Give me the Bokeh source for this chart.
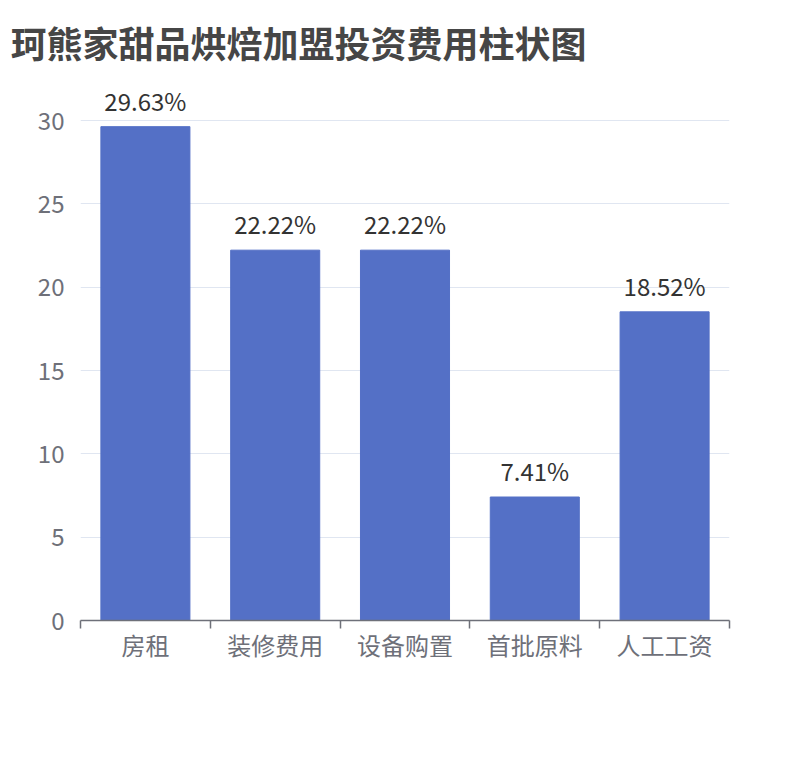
from bokeh.plotting import figure
from bokeh.models import ColumnDataSource, FixedTicker, Range1d
from bokeh.core.properties import value
from bokeh.embed import file_html
from bokeh.resources import INLINE

# data
categories = ["房租", "装修费用", "设备购置", "首批原料", "人工工资"]
shares = [29.63, 22.22, 22.22, 7.41, 18.52]
y_ticks = [0, 5, 10, 15, 20, 25, 30]

FONT = "Noto Sans CJK SC"
AXIS_GREY = "#6e7079"

pos = [i + 0.5 for i in range(len(categories))]
source = ColumnDataSource(data=dict(
    x=pos,
    top=shares,
    label=["%.2f%%" % v for v in shares],
))

# y range a bit above 30 so the top label is not clipped
p = figure(width=798, height=748, output_backend="svg", toolbar_location=None,
           x_range=Range1d(0, len(categories)), y_range=Range1d(0, 32.4),
           title="珂熊家甜品烘焙加盟投资费用柱状图")
p.min_border_left = 80
p.min_border_right = 69
p.min_border_top = 80
p.min_border_bottom = 128
p.outline_line_color = None

# title
p.title.text_font = FONT
p.title.text_font_size = "36px"
p.title.text_font_style = "bold"
p.title.text_color = "#464646"
p.title.offset = -70
p.title.standoff = 26

# bars + labels
p.vbar(x="x", top="top", width=0.686, source=source, color="#5470c6")
p.text(x="x", y="top", text="label", source=source, text_align="center",
       text_baseline="bottom", y_offset=-9, text_font=value(FONT),
       text_font_size="24px", text_color="#333333")

# grid
p.xgrid.grid_line_color = None
p.ygrid.grid_line_color = "#e0e6f1"
p.ygrid.ticker = FixedTicker(ticks=y_ticks)

# y axis
p.yaxis.ticker = FixedTicker(ticks=y_ticks)
p.yaxis.axis_line_color = None
p.yaxis.major_tick_line_color = None
p.yaxis.minor_tick_line_color = None
p.yaxis.major_tick_out = 0
p.yaxis.major_tick_in = 0
p.yaxis.major_label_standoff = 16
p.yaxis.major_label_text_font = FONT
p.yaxis.major_label_text_font_size = "24px"
p.yaxis.major_label_text_color = AXIS_GREY

# x axis: labels at centers, tick marks between categories
p.xaxis.ticker = FixedTicker(ticks=pos, minor_ticks=list(range(len(categories) + 1)))
p.xaxis.major_label_overrides = {x: c for x, c in zip(pos, categories)}
p.xaxis.axis_line_color = AXIS_GREY
p.xaxis.axis_line_width = 1.5
p.xaxis.major_tick_line_color = None
p.xaxis.major_tick_out = 0
p.xaxis.major_tick_in = 0
p.xaxis.minor_tick_line_color = AXIS_GREY
p.xaxis.minor_tick_line_width = 1.5
p.xaxis.minor_tick_out = 8
p.xaxis.minor_tick_in = 0
p.xaxis.major_label_standoff = -2
p.xaxis.major_label_text_font = FONT
p.xaxis.major_label_text_font_size = "24px"
p.xaxis.major_label_text_color = AXIS_GREY

open("out.html", "w").write(file_html(p, INLINE))
